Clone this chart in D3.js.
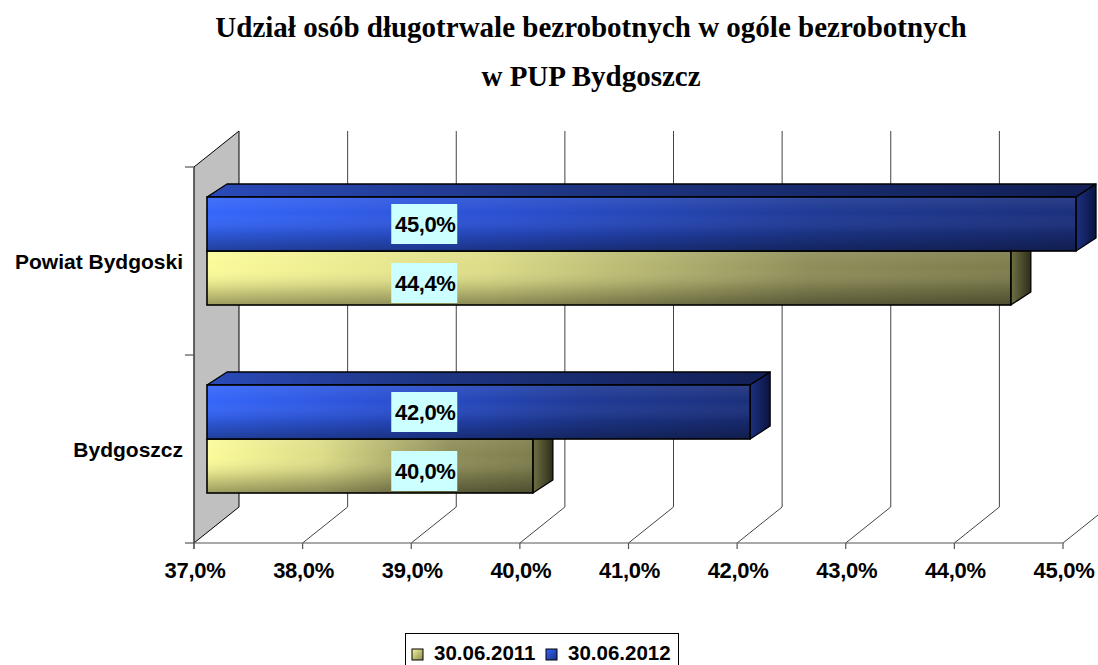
<!DOCTYPE html>
<html>
<head>
<meta charset="utf-8">
<script src="https://cdn.jsdelivr.net/npm/d3@7"></script>
<style>
html,body{margin:0;padding:0;background:#fff;}
svg{display:block;}
</style>
</head>
<body>
<svg id="chart" width="1098" height="665"></svg>
<script>
// ---- data ----
const titleLines = ["Udział osób długotrwale bezrobotnych w ogóle bezrobotnych", "w PUP Bydgoszcz"];
const categories = ["Powiat Bydgoski", "Bydgoszcz"];
const seriesNames = ["30.06.2011", "30.06.2012"];
const values2011 = [44.4, 40.0];
const values2012 = [45.0, 42.0];
const xTickValues = [37, 38, 39, 40, 41, 42, 43, 44, 45];
const labelAnchorValue = 39; // where Excel placed the data labels

// ---- setup ----
const svg = d3.select("#chart");
const plFmt = d3.formatLocale({decimal: ",", thousands: " ", grouping: [3], currency: ["", " zł"]}).format(".1f");
const pct = v => plFmt(v) + "%";

const x = d3.scaleLinear().domain([37, 45]).range([194, 1063]);
const yCat = d3.scaleBand().domain(categories).range([167, 543]).padding(0);
// within a category band: 2012 above, 2011 below
const ySer = d3.scaleBand().domain(["30.06.2012", "30.06.2011"]).range([40, 148]).padding(0);

const wall = {dx: 45, dy: -36};     // depth of the plot box
const barFront = {dx: 13, dy: -10}; // offset of bar front face
const barDepth = {dx: 20, dy: -13}; // bar thickness in depth

const defs = svg.append("defs");
function lin(id, x1, y1, x2, y2, stops) {
  const g = defs.append("linearGradient").attr("id", id)
    .attr("x1", x1).attr("y1", y1).attr("x2", x2).attr("y2", y2);
  stops.forEach(s => g.append("stop").attr("offset", s[0]).attr("stop-color", s[1]).attr("stop-opacity", s[2] == null ? 1 : s[2]));
}
lin("blueFront", 0, 0, 1, 0, [[0, "#3566fa"], [0.35, "#2a4fd0"], [0.7, "#1f3a95"], [1, "#1b2f7c"]]);
lin("yelFront", 0, 0, 1, 0, [[0, "#fbfb9a"], [0.35, "#dcdc88"], [0.75, "#8e8e5a"], [1, "#7d7d4d"]]);
lin("shadeV", 0, 0, 0, 1, [[0, "#ffffff", 0.08], [0.3, "#ffffff", 0], [0.65, "#000000", 0.12], [1, "#000000", 0.38]]);
lin("blueTop", 0, 0, 1, 0, [[0, "#2a4ab8"], [0.4, "#1e3583"], [1, "#121f55"]]);
lin("blueSide", 0, 0, 1, 0, [[0, "#1c3080"], [1, "#0a1440"]]);
lin("yelTop", 0, 0, 1, 0, [[0, "#d8d888"], [1, "#6e6e44"]]);
lin("yelSide", 0, 0, 1, 0, [[0, "#707045"], [1, "#2e2e1a"]]);
lin("swYel", 0, 0, 1, 1, [[0, "#f5f59a"], [1, "#8a8a55"]]);
lin("swBlue", 0, 0, 1, 1, [[0, "#3366ff"], [1, "#1a2f80"]]);

const fills = {
  "30.06.2011": {front: "url(#yelFront)", top: "url(#yelTop)", side: "url(#yelSide)"},
  "30.06.2012": {front: "url(#blueFront)", top: "url(#blueTop)", side: "url(#blueSide)"}
};

// ---- title ----
svg.append("g").selectAll("text").data(titleLines).join("text")
  .attr("x", 591).attr("y", (d, i) => 37 + i * 49)
  .attr("text-anchor", "middle")
  .attr("font-family", "'Liberation Serif','Times New Roman',serif")
  .attr("font-weight", "bold").attr("font-size", 29)
  .text(d => d);

// ---- walls & grid ----
const y0 = yCat.range()[0], y1 = yCat.range()[1];
const gGrid = svg.append("g");
// left wall
gGrid.append("path")
  .attr("d", `M${x(37)},${y0} L${x(37) + wall.dx},${y0 + wall.dy} L${x(37) + wall.dx},${y1 + wall.dy} L${x(37)},${y1} Z`)
  .attr("fill", "#c0c0c0").attr("stroke", "#000").attr("stroke-width", 1);
// gridlines on back wall and floor
xTickValues.filter(v => v > 37).forEach(v => {
  const xf = x(v), xb = x(v) + wall.dx;
  gGrid.append("path")
    .attr("d", `M${xb},${y0 + wall.dy} L${xb},${y1 + wall.dy} L${xf},${y1}`)
    .attr("fill", "none").attr("stroke", "#444").attr("stroke-width", 1);
});
// floor front edge (x axis)
gGrid.append("line").attr("x1", x(37)).attr("x2", x(45)).attr("y1", y1).attr("y2", y1)
  .attr("stroke", "#555").attr("stroke-width", 1.2);
// x ticks
xTickValues.forEach(v => {
  gGrid.append("line").attr("x1", x(v)).attr("x2", x(v)).attr("y1", y1).attr("y2", y1 + 6)
    .attr("stroke", "#555").attr("stroke-width", 1.2);
});
// y axis ticks (category boundaries)
const catBounds = [y0].concat(categories.map(c => yCat(c) + yCat.bandwidth()));
catBounds.forEach(b => {
  gGrid.append("line").attr("x1", x(37) - 9).attr("x2", x(37)).attr("y1", b).attr("y2", b)
    .attr("stroke", "#555").attr("stroke-width", 1.2);
});
gGrid.append("line").attr("x1", x(37)).attr("x2", x(37)).attr("y1", y0).attr("y2", y1 + 6)
  .attr("stroke", "#555").attr("stroke-width", 1.2);

// x tick labels
svg.append("g").selectAll("text").data(xTickValues).join("text")
  .attr("x", d => x(d) + 1).attr("y", 578)
  .attr("text-anchor", "middle")
  .attr("font-family", "'Liberation Sans',Arial,sans-serif")
  .attr("font-weight", "bold").attr("font-size", 22).attr("letter-spacing", -0.3)
  .text(d => pct(d));

// category labels
svg.append("g").selectAll("text").data(categories).join("text")
  .attr("x", 183).attr("y", d => yCat(d) + yCat.bandwidth() / 2 + 8)
  .attr("text-anchor", "end")
  .attr("font-family", "'Liberation Sans',Arial,sans-serif")
  .attr("font-weight", "bold").attr("font-size", 21)
  .text(d => d);

// ---- bars ----
const bars = [];
categories.forEach((c, i) => {
  bars.push({cat: c, series: "30.06.2011", value: values2011[i]});
  bars.push({cat: c, series: "30.06.2012", value: values2012[i]});
});
const gBars = svg.append("g");
bars.forEach(b => {
  const xa = x(37) + barFront.dx, xb = x(b.value) + barFront.dx;
  const ya = yCat(b.cat) + ySer(b.series) + barFront.dy;
  const yb = ya + ySer.bandwidth();
  const dx = barDepth.dx, dy = barDepth.dy;
  const f = fills[b.series];
  const g = gBars.append("g");
  g.append("path").attr("d", `M${xa},${ya} L${xa + dx},${ya + dy} L${xb + dx},${ya + dy} L${xb},${ya} Z`)
    .attr("fill", f.top).attr("stroke", "#000").attr("stroke-width", 1.3).attr("stroke-linejoin", "round");
  g.append("path").attr("d", `M${xb},${ya} L${xb + dx},${ya + dy} L${xb + dx},${yb + dy} L${xb},${yb} Z`)
    .attr("fill", f.side).attr("stroke", "#000").attr("stroke-width", 1.3).attr("stroke-linejoin", "round");
  g.append("rect").attr("x", xa).attr("y", ya).attr("width", xb - xa).attr("height", yb - ya)
    .attr("fill", f.front);
  g.append("rect").attr("x", xa).attr("y", ya).attr("width", xb - xa).attr("height", yb - ya)
    .attr("fill", "url(#shadeV)").attr("stroke", "#000").attr("stroke-width", 1.6);
});

// ---- data labels ----
const gLab = svg.append("g");
bars.forEach(b => {
  const cx = x(labelAnchorValue) + barFront.dx;
  const cy = yCat(b.cat) + ySer(b.series) + barFront.dy + ySer.bandwidth() / 2 + (b.series === "30.06.2011" ? 5 : 0);
  gLab.append("rect").attr("x", cx - 33).attr("y", cy - 20).attr("width", 66).attr("height", 40)
    .attr("fill", "#ccffff");
  gLab.append("text").attr("x", cx + 1).attr("y", cy + 8)
    .attr("text-anchor", "middle")
    .attr("font-family", "'Liberation Sans',Arial,sans-serif")
    .attr("font-weight", "bold").attr("font-size", 22).attr("letter-spacing", -0.4)
    .text(pct(b.value));
});

// ---- legend ----
const gLeg = svg.append("g");
gLeg.append("rect").attr("x", 405.5).attr("y", 633.5).attr("width", 273).attr("height", 40)
  .attr("fill", "#fff").attr("stroke", "#000").attr("stroke-width", 1);
const legX = [412, 546];
seriesNames.forEach((s, i) => {
  gLeg.append("rect").attr("x", legX[i]).attr("y", 649).attr("width", 11).attr("height", 11)
    .attr("fill", i === 0 ? "url(#swYel)" : "url(#swBlue)").attr("stroke", "#000").attr("stroke-width", 1);
  gLeg.append("text").attr("x", legX[i] + 22).attr("y", 660)
    .attr("font-family", "'Liberation Sans',Arial,sans-serif")
    .attr("font-weight", "bold").attr("font-size", 20.5)
    .text(s);
});
</script>
</body>
</html>
